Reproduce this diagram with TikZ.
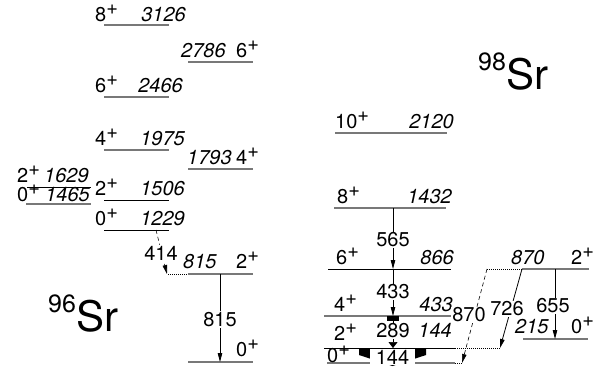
\documentclass[tikz,border=0pt]{standalone}
\usepackage{fontspec}
\setmainfont{TeX Gyre Heros}
\usepackage{tikz}
\usetikzlibrary{arrows.meta,positioning,calc}
\definecolor{LevelGray}{RGB}{120,120,120}
\newcommand{\parity}[1]{\raisebox{7pt}{#1}}

\begin{document}
\begin{tikzpicture}[
  x=1pt, y=-1pt,
  lvl/.style={line width=0.8pt},
  lvlgray/.style={draw=LevelGray, line width=1.3pt},
  lvlext/.style={line width=0.6pt, dash pattern=on 0.7pt off 1.3pt},
  spin/.style={anchor=base west, inner sep=0pt, font=\fontsize{20}{20}\selectfont},
  energy/.style={inner sep=0pt, font=\fontsize{20}{20}\selectfont\itshape},
  gam/.style={-{Triangle[length=9pt,width=4.5pt]}, line width=0.8pt},
  gamdash/.style={gam, dash pattern=on 4pt off 3pt, line width=0.6pt},
  gamlabel/.style={fill=white, inner sep=1pt, font=\fontsize{20}{20}\selectfont},
  nucl/.style={anchor=base west, inner sep=0pt}
]
\useasboundingbox (0,0) rectangle (609,368);

% ---------------- 96Sr ----------------
\node[nucl] (sr96) at (48,331)
  {\raisebox{19pt}{\fontsize{25}{25}\selectfont 96}{\fontsize{42}{42}\selectfont Sr}};

% ground band column
\draw[lvlgray] (104,25) -- (169,25);
\node[spin] (sp3126) at (95,21) {8\parity{+}};
\node[energy,anchor=base east] (en3126) at (186,21) {3126};

\draw[lvlgray] (104,97) -- (169,97);
\node[spin] (sp2466) at (95,92) {6\parity{+}};
\node[energy,anchor=base east] (en2466) at (183,92) {2466};

\draw[lvlgray] (104,150) -- (169,150);
\node[spin] (sp1975) at (95,145) {4\parity{+}};
\node[energy,anchor=base east] (en1975) at (185,145) {1975};

\draw[lvl] (104,200) -- (169,200);
\node[spin] (sp1506) at (95,195) {2\parity{+}};
\node[energy,anchor=base east] (en1506) at (185,195) {1506};

\draw[lvl] (104,230) -- (169,230);
\node[spin] (sp1229) at (95,225) {0\parity{+}};
\node[energy,anchor=base east] (en1229) at (185,225) {1229};

% side column
\draw[lvlgray] (188,62) -- (253,62);
\node[energy,anchor=base west] (en2786) at (181,57) {2786};
\node[spin] (sp2786) at (236,57) {6\parity{+}};

\draw[lvlgray] (188,169) -- (253,169);
\node[energy,anchor=base west] (en1793) at (187,164) {1793};
\node[spin] (sp1793) at (236,164) {4\parity{+}};

\draw[lvlext] (168,274) -- (188,274);
\draw[lvlgray] (188,274) -- (253,274);
\node[energy,anchor=base west] (en815) at (183,268.5) {815};
\node[spin] (sp815) at (236,268.5) {2\parity{+}};

\draw[lvlgray] (188,362) -- (253,362);
\node[spin] (sp0a) at (236,356) {0\parity{+}};

% left column
\draw[lvl] (27,187) -- (91,187);
\node[spin] (sp1629) at (17,182) {2\parity{+}};
\node[energy,anchor=base west] (en1629) at (44,182) {1629};

\draw[lvlgray] (26,204) -- (91,204);
\node[spin] (sp1465) at (17,201) {0\parity{+}};
\node[energy,anchor=base east] (en1465) at (90,201) {1465};

% transitions 96Sr
\coordinate (t414a) at (156,230);
\coordinate (t414b) at (167,274);
\draw[gamdash] (t414a) -- (t414b);
\node[gamlabel] (g414) at (161,253.5) {414};

\coordinate (t815a) at (220,274);
\coordinate (t815b) at (220,362);
\draw[gam] (t815a) -- (t815b);
\node[gamlabel] (g815) at (220,319.5) {815};

% ---------------- 98Sr ----------------
\node[nucl] (sr98) at (478,89)
  {\raisebox{19pt}{\fontsize{25}{25}\selectfont 98}{\fontsize{42}{42}\selectfont Sr}};

\draw[lvlgray] (335,133) -- (447,133);
\node[spin] (sp2120) at (335,128) {10\parity{+}};
\node[energy,anchor=base east] (en2120) at (454,128) {2120};

\draw[lvlgray] (334,208) -- (446,208);
\node[spin] (sp1432) at (337,203) {8\parity{+}};
\node[energy,anchor=base east] (en1432) at (452,203) {1432};

\draw[lvl] (328,269) -- (451,269);
\node[spin] (sp866) at (336,264) {6\parity{+}};
\node[energy,anchor=base east] (en866) at (454,264) {866};

\draw[lvlgray] (324,316) -- (452,316);
\node[spin] (sp433) at (334,311) {4\parity{+}};
\node[energy,anchor=base east] (en433) at (453,311) {433};

\draw[lvl] (324,348) -- (455,348);
\draw[lvlext] (455,348) -- (500,348);
\node[spin] (sp144) at (334,340) {2\parity{+}};
\node[energy,anchor=base east] (en144) at (452,337) {144};

\draw[lvlgray] (327,363) -- (455,363);
\draw[lvlext] (455,363) -- (462,363);
\node[spin] (sp0b) at (327,362.5) {0\parity{+}};

% 2+ 870 band and 0+ 215
\draw[lvlext] (487,269) -- (522,269);
\draw[lvlgray] (522,269) -- (589,269);
\node[energy,anchor=base west] (en870) at (511,264) {870};
\node[spin] (sp870) at (571,264) {2\parity{+}};

\draw[lvlgray] (523,339) -- (588,339);
\node[energy,anchor=base west] (en215) at (515,333) {215};
\node[spin] (sp215) at (571,333) {0\parity{+}};

% transitions 98Sr
\coordinate (t565a) at (393,208);
\coordinate (t565b) at (393,269);
\draw[gam] (t565a) -- (t565b);
\node[gamlabel] (g565) at (393,240) {565};

\coordinate (t433a) at (393,269);
\coordinate (t433b) at (393,316);
\draw[gam] (t433a) -- (t433b);
\fill (387,316) rectangle (399,321);
\node[gamlabel] (g433) at (393,292) {433};

\coordinate (t289a) at (393,321);
\coordinate (t289b) at (393,348);
\draw[-{Triangle[length=6pt,width=9pt]}, line width=0.6pt] (t289a) -- (t289b);
\node[gamlabel] (g289) at (393,331) {289};

\fill (359,348) -- (426,348) -- (426,355) -- (392.5,366) -- (359,355) -- cycle;
\node[gamlabel, inner sep=0pt, minimum width=45pt, minimum height=16pt] (g144) at (392.5,357) {144};

\coordinate (t870a) at (487,269);
\coordinate (t870b) at (462,363);
\draw[gamdash] (t870a) -- (t870b);
\node[gamlabel] (g870) at (469,315) {870};

\coordinate (t726a) at (522,269);
\coordinate (t726b) at (500,348);
\draw[gam] (t726a) -- (t726b);
\node[gamlabel] (g726) at (507,309) {726};

\coordinate (t655a) at (555,269);
\coordinate (t655b) at (555,339);
\draw[gam] (t655a) -- (t655b);
\node[gamlabel] (g655) at (553,306) {655};
\end{tikzpicture}
\end{document}
